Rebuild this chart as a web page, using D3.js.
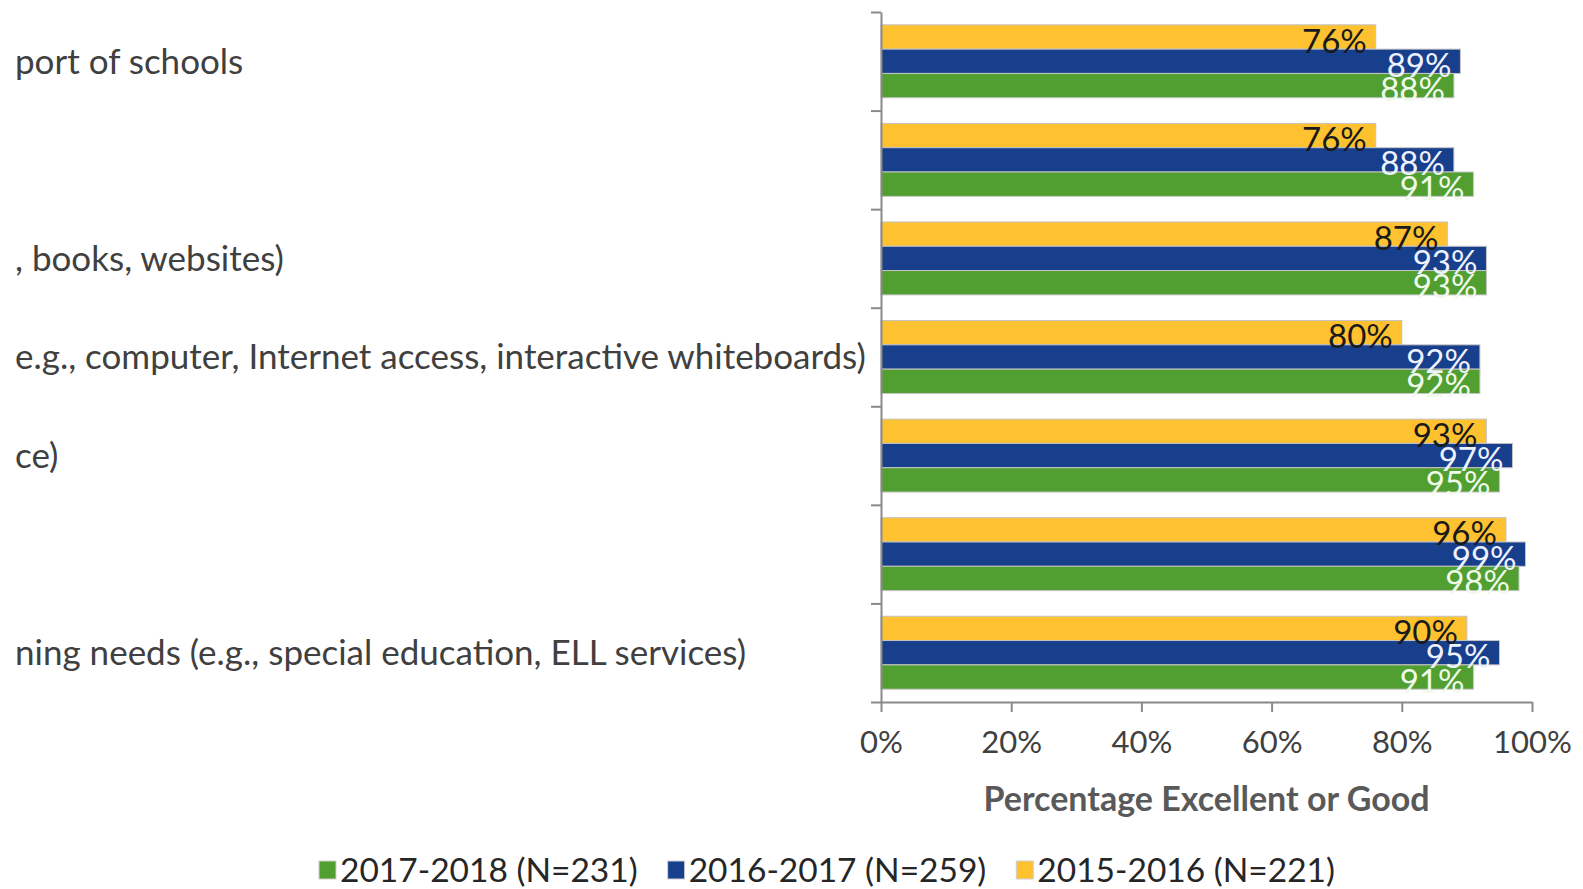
<!DOCTYPE html>
<html>
<head>
<meta charset="utf-8">
<script src="https://cdn.jsdelivr.net/npm/d3@7"></script>
<style>
  body { margin: 0; background: #fff; overflow: hidden; }
  text { font-family: Lato, "Open Sans", sans-serif; }
</style>
</head>
<body>
<div id="mainGraphic"></div>
<script>
let svgWidth = 1583
let svgHeight = 889

// category labels as they show in the picture (cut off on the left)
let categories = [
  "port of schools",
  "",
  ", books, websites)",
  "e.g., computer, Internet access, interactive whiteboards)",
  "ce)",
  "",
  "ning needs (e.g., special education, ELL services)"
]
let seriesNames = ["2015-2016 (N=221)", "2016-2017 (N=259)", "2017-2018 (N=231)"]
let values2015 = [76, 76, 87, 80, 93, 96, 90]
let values2016 = [89, 88, 93, 92, 97, 99, 95]
let values2017 = [88, 91, 93, 92, 95, 98, 91]
let xTicks = [0, 20, 40, 60, 80, 100]
let legendOrder = [2, 1, 0]

let barColors = ["#fec12f", "#183f8c", "#519e31"]
let labelColors = ["#1a1a1a", "#eef2ff", "#effbe9"]

renderChart();

function renderChart(){
  let graphic = d3.select("#mainGraphic")
    .append("svg")
      .attr("width", svgWidth)
      .attr("height", svgHeight)

  let allValues = [values2015, values2016, values2017]
  let rows = categories.map((c, i) => ({ name: c, idx: i, vals: allValues.map(v => v[i]) }))

  let x = d3.scaleLinear().domain([0, 100]).range([881, 1532])
  let y = d3.scaleBand()
    .domain(d3.range(categories.length))
    .range([12, 702])
    .paddingInner(0.26)
    .paddingOuter(0.13)
  let ySub = d3.scaleBand().domain([0, 1, 2]).range([0, y.bandwidth()])
  let yEdges = d3.scaleLinear().domain([0, categories.length]).range([12, 702])

  // category labels
  graphic.append("g")
    .selectAll("text")
    .data(rows)
    .enter()
    .append("text")
      .attr("x", 15)
      .attr("y", d => y(d.idx) + y.bandwidth() / 2)
      .attr("dy", "0.35em")
      .style("font-size", "35px")
      .style("fill", "#404040")
      .text(d => d.name)

  // bars
  let groups = graphic.append("g")
    .selectAll("g")
    .data(rows)
    .enter()
    .append("g")
      .attr("transform", d => "translate(0," + y(d.idx) + ")")

  groups.selectAll("rect")
    .data(d => d.vals.map((v, s) => ({ v: v, s: s })))
    .enter()
    .append("rect")
      .attr("x", x(0))
      .attr("y", d => ySub(d.s))
      .attr("width", d => x(d.v) - x(0))
      .attr("height", ySub.bandwidth())
      .style("fill", d => barColors[d.s])
      .attr("stroke", "#c4c4c4")
      .style("stroke-width", 1)

  groups.selectAll("text")
    .data(d => d.vals.map((v, s) => ({ v: v, s: s })))
    .enter()
    .append("text")
      .attr("x", d => x(d.v) - 9)
      .attr("y", d => ySub(d.s) + ySub.bandwidth() / 2 + 4)
      .attr("dy", "0.35em")
      .attr("text-anchor", "end")
      .style("font-size", "33px")
      .style("fill", d => labelColors[d.s])
      .text(d => d.v + "%")

  // y axis with ticks on the category edges
  let yAxis = graphic.append("g")
    .attr("transform", "translate(" + x(0) + ",0)")
    .call(d3.axisLeft(yEdges).tickValues(d3.range(categories.length + 1)).tickFormat("").tickSize(10).tickSizeOuter(0))
  yAxis.select(".domain").attr("stroke", "#8a8a8a").style("stroke-width", 2)
  yAxis.selectAll(".tick line").attr("stroke", "#8a8a8a").style("stroke-width", 2)

  // x axis
  let xAxis = graphic.append("g")
    .attr("transform", "translate(0,702)")
    .call(d3.axisBottom(x).tickValues(xTicks).tickFormat(d => d + "%").tickSize(10).tickSizeOuter(0))
  xAxis.select(".domain").attr("stroke", "#8a8a8a").style("stroke-width", 2)
  xAxis.selectAll(".tick line").attr("stroke", "#8a8a8a").style("stroke-width", 2)
  xAxis.selectAll(".tick text")
    .attr("y", 40)
    .attr("dy", "0.35em")
    .style("font-size", "31px")
    .style("font-family", "Lato")
    .style("fill", "#404040")

  graphic.append("text")
    .attr("x", (x(0) + x(100)) / 2)
    .attr("y", 799)
    .attr("dy", "0.35em")
    .attr("text-anchor", "middle")
    .style("font-size", "34px")
    .style("font-weight", "bold")
    .style("fill", "#595959")
    .text("Percentage Excellent or Good")

  // legend
  let legend = graphic.append("g").attr("transform", "translate(0,870)")
  let items = legend.selectAll("g")
    .data(legendOrder)
    .enter()
    .append("g")
  items.append("rect")
    .attr("y", -9)
    .attr("width", 17)
    .attr("height", 18)
    .style("fill", s => barColors[s])
    .attr("stroke", "#d0d0d0")
  items.append("text")
    .attr("x", 21)
    .attr("dy", "0.35em")
    .style("font-size", "33.5px")
    .style("fill", "#262626")
    .text(s => seriesNames[s])
  let pos = 319
  items.each(function(){
    let w = d3.select(this).select("text").node().getComputedTextLength()
    d3.select(this).attr("transform", "translate(" + pos + ",0)")
    pos += 21 + w + 30
  })
}
</script>
</body>
</html>
